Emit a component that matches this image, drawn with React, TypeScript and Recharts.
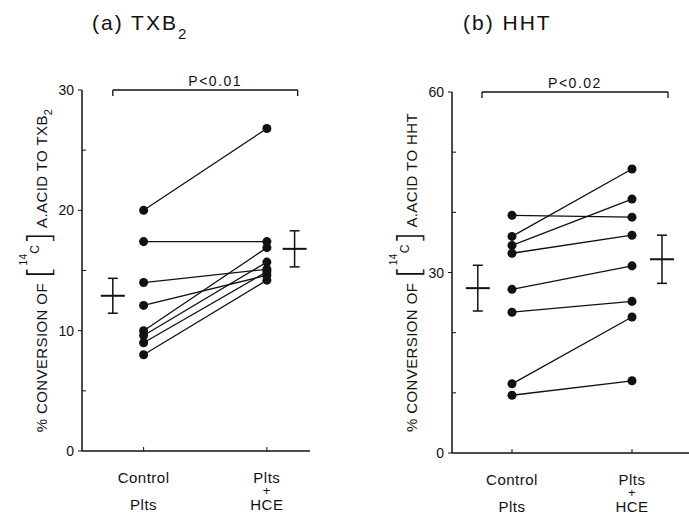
import React from 'react';
import { ScatterChart, Scatter, XAxis, YAxis, ErrorBar, ReferenceLine } from 'recharts';

// paired subjects: control platelets -> platelets + HCE
const CONTROL_TXB2 = [20.0, 17.4, 14.0, 12.1, 10.0, 9.6, 9.0, 8.0];
const HCE_TXB2 = [26.8, 17.4, 15.1, 14.6, 16.9, 15.7, 14.9, 14.2];
const CONTROL_HHT = [39.5, 36.0, 34.5, 33.2, 27.2, 23.4, 11.5, 9.6];
const HCE_HHT = [39.2, 47.2, 42.2, 36.2, 31.1, 25.2, 22.6, 12.0];

// mean ± SE markers beside each group
const MEAN_TXB2 = [12.9, 16.8];
const SE_TXB2 = [1.45, 1.5];
const MEAN_HHT = [27.4, 32.2];
const SE_HHT = [3.8, 4.0];

const GROUP_X = [1, 3];
const MEAN_X_TXB2 = [0.5, 3.45];
const MEAN_X_HHT = [0.43, 3.5];
const GROUP_LABELS = [['Control', 'Plts'], ['Plts', '+', 'HCE']];

const TICKS_TXB2 = [0, 5, 10, 15, 20, 25, 30];
const TICKS_HHT = [0, 10, 20, 30, 40, 50, 60];

const FONT = '"Liberation Sans", Arial, sans-serif';
const INK = '#111';

function pairs(ctrl: number[], hce: number[]) {
  return ctrl.map((c, i) => [
    { x: GROUP_X[0], y: c },
    { x: GROUP_X[1], y: hce[i] },
  ]);
}

function MeanMark(props: any) {
  const { cx, cy } = props;
  return <line x1={cx - 12} x2={cx + 12} y1={cy} y2={cy} stroke={INK} strokeWidth={2} />;
}

function XTick(props: any) {
  const { x, y, index } = props;
  const lines = GROUP_LABELS[index] || [];
  const offsets = lines.length === 2 ? [32, 59] : [32, 44, 59];
  return (
    <g>
      <line x1={x} x2={x} y1={y} y2={y - 4} stroke={INK} strokeWidth={1} />
      {lines.map((t, i) => (
        <text
          key={i}
          x={x}
          y={y + offsets[i]}
          textAnchor="middle"
          fontSize={t === '+' ? 13 : 15}
          fill={INK}
          fontFamily={FONT}
          letterSpacing={0.5}
        >
          {t}
        </text>
      ))}
    </g>
  );
}

function makeYTick(step: number) {
  return function YTick(props: any) {
    const { x, y, payload } = props;
    const major = payload.value % step === 0;
    return (
      <g>
        {major ? (
          <>
            <line x1={x - 4} x2={x} y1={y} y2={y} stroke={INK} strokeWidth={1} />
            <text x={x - 8} y={y} dy="0.36em" textAnchor="end" fontSize={14} fill={INK} fontFamily={FONT}>
              {payload.value}
            </text>
          </>
        ) : (
          <line x1={x} x2={x + 4} y1={y} y2={y} stroke={INK} strokeWidth={1} />
        )}
      </g>
    );
  };
}

function AxisTitle({ viewBox, name, sub }: any) {
  if (!viewBox) return null;
  const bx = viewBox.x + viewBox.width - 35;
  const cy = viewBox.y + viewBox.height / 2;
  return (
    <text transform={`translate(${bx},${cy}) rotate(-90)`} textAnchor="middle" fontSize={15} fill={INK} fontFamily={FONT} letterSpacing={0.4}>
      <tspan>% CONVERSION OF </tspan>
      <tspan fontSize={32} fontWeight={200} fontFamily='"DejaVu Sans", sans-serif' dy={3}>[</tspan>
      <tspan fontSize={10} dy={-23}>14</tspan>
      <tspan fontSize={12} dy={12}>C</tspan>
      <tspan fontSize={32} fontWeight={200} fontFamily='"DejaVu Sans", sans-serif' dy={11}>]</tspan>
      <tspan dy={-3}> A.ACID TO {name}</tspan>
      {sub ? <tspan fontSize={11} dy={5}>{sub}</tspan> : null}
    </text>
  );
}

interface PanelProps {
  left: number;
  width: number;
  margin: { top: number; right: number; bottom: number; left: number };
  xMax: number;
  yMax: number;
  ticks: number[];
  labelStep: number;
  control: number[];
  hce: number[];
  meanX: number[];
  means: number[];
  ses: number[];
  bracket: [number, number];
  pText: string;
  pShift: number;
  name: string;
  sub?: string;
}

function Panel(p: PanelProps) {
  const subjects = pairs(p.control, p.hce);
  const meanData = p.meanX.map((x, i) => ({ x, y: p.means[i], se: p.ses[i] }));
  const drop = p.yMax / 60;
  const YTick = makeYTick(p.labelStep);
  return (
    <div style={{ position: 'absolute', left: p.left, top: 0 }}>
      <ScatterChart width={p.width} height={513} margin={p.margin}>
        <XAxis
          type="number"
          dataKey="x"
          domain={[0, p.xMax]}
          ticks={GROUP_X}
          interval={0}
          allowDataOverflow
          height={50}
          tickSize={0}
          tickMargin={0}
          tickLine={false}
          tick={<XTick />}
          axisLine={{ stroke: INK, strokeWidth: 1.5 }}
        />
        <YAxis
          type="number"
          dataKey="y"
          domain={[0, p.yMax]}
          ticks={p.ticks}
          interval={0}
          width={40}
          tickSize={0}
          tickMargin={0}
          tickLine={false}
          tick={<YTick />}
          axisLine={{ stroke: INK, strokeWidth: 1.5 }}
          label={{ content: (lp: any) => <AxisTitle viewBox={lp.viewBox} name={p.name} sub={p.sub} /> }}
        />
        {subjects.map((d, i) => (
          <Scatter
            key={i}
            data={d}
            fill={INK}
            shape="circle"
            line={{ stroke: INK, strokeWidth: 1.3 }}
            isAnimationActive={false}
          />
        ))}
        <Scatter data={meanData} shape={<MeanMark />} isAnimationActive={false}>
          <ErrorBar dataKey="se" direction="y" width={5} stroke={INK} strokeWidth={1.5} isAnimationActive={false} />
        </Scatter>
        <ReferenceLine
          segment={[{ x: p.bracket[0], y: p.yMax }, { x: p.bracket[1], y: p.yMax }]}
          stroke={INK}
          strokeWidth={1.3}
          ifOverflow="visible"
          label={{ value: p.pText, position: 'top', offset: 4, dx: p.pShift, fill: INK, fontSize: 14, fontFamily: FONT, letterSpacing: 1.5 }}
        />
        <ReferenceLine
          segment={[{ x: p.bracket[0], y: p.yMax }, { x: p.bracket[0], y: p.yMax - drop }]}
          stroke={INK}
          strokeWidth={1.3}
          ifOverflow="visible"
        />
        <ReferenceLine
          segment={[{ x: p.bracket[1], y: p.yMax }, { x: p.bracket[1], y: p.yMax - drop }]}
          stroke={INK}
          strokeWidth={1.3}
          ifOverflow="visible"
        />
      </ScatterChart>
    </div>
  );
}

const titleStyle: React.CSSProperties = {
  position: 'absolute',
  top: 12,
  fontSize: 21,
  lineHeight: '21px',
  letterSpacing: 2,
  fontFamily: FONT,
  color: INK,
  whiteSpace: 'nowrap',
};

export default function App() {
  return (
    <div style={{ position: 'absolute', left: 0, top: 0, width: 689, height: 513, background: '#fff', overflow: 'hidden' }}>
      <div style={{ ...titleStyle, left: 92 }}>
        (a) TXB<span style={{ fontSize: 15, position: 'relative', top: 9 }}>2</span>
      </div>
      <div style={{ ...titleStyle, left: 463 }}>(b) HHT</div>
      <Panel
        left={0}
        width={330}
        margin={{ top: 90, right: 20, bottom: 12, left: 42 }}
        xMax={3.7}
        yMax={30}
        ticks={TICKS_TXB2}
        labelStep={10}
        control={CONTROL_TXB2}
        hce={HCE_TXB2}
        meanX={MEAN_X_TXB2}
        means={MEAN_TXB2}
        ses={SE_TXB2}
        bracket={[0.5, 3.5]}
        pText="P<0.01"
        pShift={10}
        name="TXB"
        sub="2"
      />
      <Panel
        left={345}
        width={344}
        margin={{ top: 92, right: 0, bottom: 10, left: 67 }}
        xMax={3.95}
        yMax={60}
        ticks={TICKS_HHT}
        labelStep={30}
        control={CONTROL_HHT}
        hce={HCE_HHT}
        meanX={MEAN_X_HHT}
        means={MEAN_HHT}
        ses={SE_HHT}
        bracket={[0.5, 3.6]}
        pText="P<0.02"
        pShift={0}
        name="HHT"
      />
    </div>
  );
}
